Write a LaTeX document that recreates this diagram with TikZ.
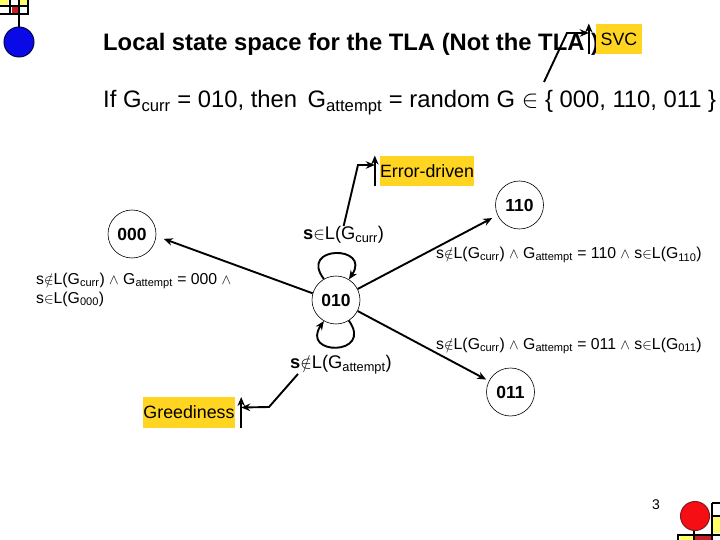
\documentclass[tikz,border=0pt]{standalone}
\usepackage{fontspec}
\usetikzlibrary{arrows.meta}
\setmainfont{Liberation Sans}
\tikzset{
  statenode/.style={draw,circle,line width=0.6pt,minimum size=48pt,inner sep=0pt,font=\fontsize{17.5}{18}\selectfont\bfseries},
  notebox/.style={fill=notegold,inner sep=0pt,minimum height=30.5pt,font=\fontsize{17.8}{18}\selectfont},
  small/.style={anchor=base west,inner sep=0pt,font=\fontsize{15.8}{18}\selectfont},
  mid/.style={anchor=base west,inner sep=0pt,font=\fontsize{18.3}{20}\selectfont},
  link/.style={-{Stealth[length=9pt,width=7.5pt]},line width=1.9pt}
}
\definecolor{notegold}{HTML}{FFD522}
\definecolor{chipyellow}{HTML}{FFFF66}
\definecolor{chipred}{HTML}{C81E28}
\definecolor{ballblue}{HTML}{0A0AE6}
\definecolor{ballred}{HTML}{F50F14}
\begin{document}
\begin{tikzpicture}[x=1pt,y=-1pt]
\useasboundingbox (0,0) rectangle (720,540);

\fill[chipyellow] (0,0) rectangle (8,5);
\fill[chipyellow] (20,0) rectangle (27,5);
\fill[chipred] (12,7) rectangle (18,13);
\draw[line width=2pt] (0,6) -- (28,6);
\draw[line width=2pt] (0,14.5) -- (28,14.5);
\draw[line width=2pt] (9.5,0) -- (9.5,14.5);
\draw[line width=2pt] (19,0) -- (19,28);
\draw[line width=2pt] (28,0) -- (28,15.5);
\filldraw[fill=ballblue,draw=black!70!ballblue,line width=1pt] (19,42) circle (15);

\fill[chipyellow] (680,536) rectangle (693,540);
\fill[chipred] (695,536) rectangle (711,540);
\fill[chipyellow] (713,517) rectangle (720,533);
\draw[line width=2pt] (677,535) -- (720,535);
\draw[line width=2pt] (678,535) -- (678,540);
\draw[line width=2pt] (694,530) -- (694,540);
\draw[line width=2pt] (712,503) -- (712,540);
\draw[line width=2pt] (712,503) -- (720,503);
\draw[line width=2pt] (712,516) -- (720,516);
\filldraw[fill=ballred,draw=black!30!chipred,line width=1pt] (695,516) circle (14.5);

\node (title) [anchor=base west,inner sep=0pt,font=\fontsize{23.8}{24}\selectfont\bfseries] at (103,51) {Local state space for the TLA (Not the TLA )};
\node (ifline) [anchor=base west,inner sep=0pt,font=\fontsize{23.8}{24}\selectfont] at (103,108) {If G\textsubscript{curr} = 010, then\, G\textsubscript{attempt} = random G $\in$ \{ 000, 110, 011 \}};

\node (svc) [notebox,minimum width=46pt] at (619,39) {SVC};
\node (errdrv) [notebox,minimum width=94pt] at (427,171) {Error-driven};
\node (greedy) [notebox,minimum width=92pt] at (189,412.5) {Greediness};

\node (n000) [statenode] at (132,234) {000};
\node (n110) [statenode] at (519.5,205) {110};
\node (n010) [statenode] at (336,300) {010};
\node (n011) [statenode] at (510.5,392) {011};

\node (lblcurr) [mid] at (303,239.5) {\textbf{s}$\in$L(G\textsubscript{curr})};
\node (lblatt) [mid] at (290,368.5) {\textbf{s}$\notin$L(G\textsubscript{attempt})};
\node (lbl000a) [small] at (36,284.5) {s$\notin$L(G\textsubscript{curr}) $\wedge$ G\textsubscript{attempt} = 000 $\wedge$};
\node (lbl000b) [small] at (36,303) {s$\in$L(G\textsubscript{000})};
\node (lbl110) [small] at (436,258.5) {s$\notin$L(G\textsubscript{curr}) $\wedge$ G\textsubscript{attempt} = 110 $\wedge$ s$\in$L(G\textsubscript{110})};
\node (lbl011) [small] at (436,349) {s$\notin$L(G\textsubscript{curr}) $\wedge$ G\textsubscript{attempt} = 011 $\wedge$ s$\in$L(G\textsubscript{011})};
\node (pagenum) [anchor=base west,inner sep=0pt,font=\fontsize{14}{16}\selectfont] at (652,509) {3};

\coordinate (svcfoot) at (544,82);
\coordinate (svcbend) at (567,33);
\coordinate (errbend) at (358,165);
\coordinate (grbend) at (269,407);

\draw[link,shorten >=8pt] (n010.164) -- (n000.-5);
\draw[link,shorten >=6pt] (n010.27) -- (n110.205);
\draw[link,shorten >=3pt] (n010.-27) -- (n011.153);
\draw[link] (n010.120) .. controls (298,245) and (372,245) .. (n010.58);
\draw[link] (n010.-58) .. controls (374,356) and (300,356) .. (n010.-120);

\draw[link] (svcfoot) -- (svcbend) -- ([xshift=-7pt,yshift=6pt]svc.west);
\draw[link] ([xshift=-7pt]svc.south west) -- ([xshift=-7pt]svc.north west);
\draw[link] (lblcurr.north) -- (errbend) -- ([xshift=-5pt,yshift=6pt]errdrv.west);
\draw[link] ([xshift=-5pt]errdrv.south west) -- ([xshift=-5pt]errdrv.north west);
\draw[link] ([xshift=8pt]lblatt.south west) -- (grbend) -- ([xshift=6pt,yshift=5pt]greedy.east);
\draw[link] ([xshift=6pt]greedy.south east) -- ([xshift=6pt]greedy.north east);
\end{tikzpicture}
\end{document}
